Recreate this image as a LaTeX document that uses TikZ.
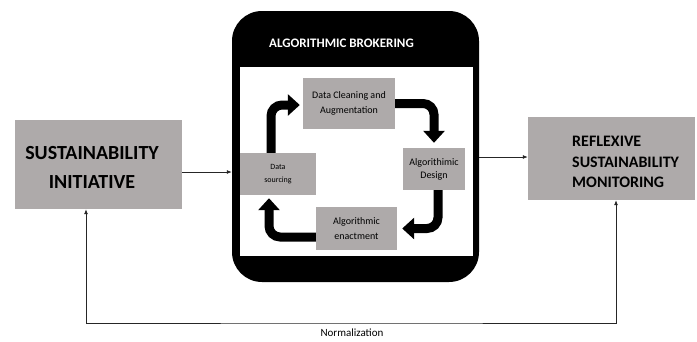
\documentclass[tikz,border=0pt]{standalone}
\usepackage{fontspec}
\setmainfont{Carlito}
\usetikzlibrary{arrows.meta}
\definecolor{boxgray}{HTML}{AEAAAA}
\begin{document}
\begin{tikzpicture}[x=1pt,y=-1pt,
  gbox/.style={fill=boxgray, draw=none, inner sep=0pt, align=center},
  thinarrow/.style={draw=black!85, line width=0.8pt, -{Latex[length=5pt,width=4pt]}},
  fat/.style={line width=9pt, rounded corners=11pt, -{Triangle[length=12pt,width=21pt]}},
  big/.style={inner sep=0pt, font=\bfseries},
  small/.style={font=\fontsize{10}{15}\selectfont},
]
\useasboundingbox (0,0) rectangle (697,341);
% left box
\node[gbox, minimum width=167pt, minimum height=89pt] (lb) at (98.5,164.5) {};
\node[big, align=center, font=\fontsize{20}{29}\selectfont\bfseries] (lbt) at (92,167.5) {SUSTAINABILITY\\INITIATIVE};
% right box
\node[gbox, minimum width=167pt, minimum height=83pt] (rb) at (611.5,158.5) {};
\node[big, align=left, anchor=west, font=\fontsize{16}{20.5}\selectfont\bfseries] (rbt) at (572,162) {REFLEXIVE\\SUSTAINABILITY\\MONITORING};
% black box
\node[fill=black, rounded corners=30pt, minimum width=247pt, minimum height=271pt, inner sep=0pt] (bb) at (355.5,146.5) {};
\node[fill=white, minimum width=233pt, minimum height=189pt, inner sep=0pt] (wb) at (356.5,161.5) {};
\node[text=white, font=\fontsize{13}{15}\selectfont\bfseries, inner sep=0pt] (title) at (341.5,43) {ALGORITHMIC BROKERING};
% small boxes
\node[gbox, small, minimum width=92pt, minimum height=51pt] (dc) at (349,103.5) {Data Cleaning and\\Augmentation};
\node[gbox, font=\fontsize{10}{13}\selectfont, minimum width=62pt, minimum height=42pt] (ad) at (434,169) {Algorithimic\\Design};
\node[gbox, small, minimum width=81pt, minimum height=43pt] (ae) at (356.5,228.5) {Algorithmic\\enactment};
\node[gbox, font=\fontsize{8}{13}\selectfont, minimum width=76pt, minimum height=42pt] (ds) at (278,174) {Data\\sourcing};
% fat arrows
\draw[fat, shorten >=3pt] ([xshift=-7pt]ds.north) |- ([yshift=-1.5pt]dc.west);
\draw[fat, shorten >=5pt] (dc.east) -| (ad.north);
\draw[fat, shorten >=5pt] ([xshift=4pt]ad.south) |- (ae.east);
\draw[fat, shorten >=3pt] ([yshift=-8.5pt]ae.west) -| ([xshift=-9pt]ds.south);
% thin arrows
\draw[thinarrow] ([yshift=-7.5pt]lb.east) -- ([yshift=-7.5pt]lb.east -| bb.west);
\draw[thinarrow] ([yshift=1.5pt]rb.west -| bb.east) -- ([yshift=1.5pt]rb.west);
\coordinate (nm) at (352,323);
\draw[thinarrow, {Latex[length=5pt,width=4pt]}-{Latex[length=5pt,width=4pt]}] ([xshift=-12.5pt]lb.south) |- (nm) -| ([xshift=4.5pt]rb.south);
\node[font=\fontsize{11}{13}\selectfont, inner sep=0pt] (nl) at (352,333) {Normalization};
\end{tikzpicture}
\end{document}
